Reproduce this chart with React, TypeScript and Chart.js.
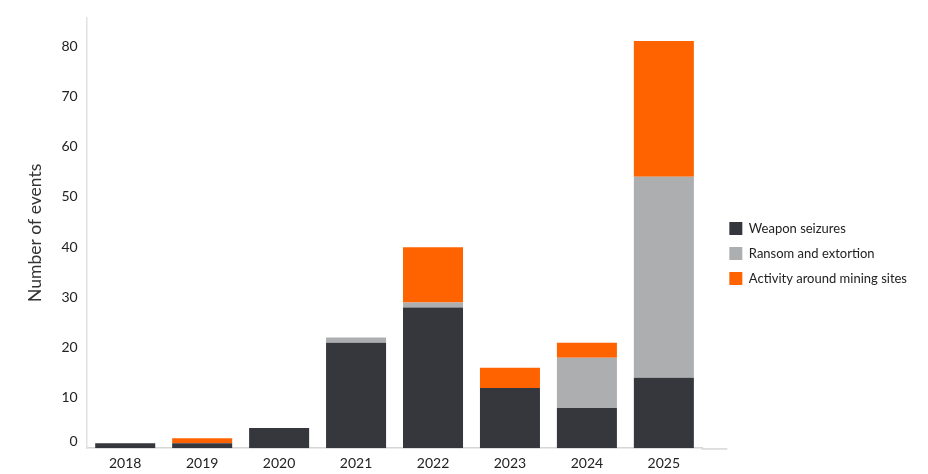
import React, { useEffect, useRef } from "react";
import { Chart, registerables } from "chart.js";

Chart.register(...registerables);

const years = ["2018", "2019", "2020", "2021", "2022", "2023", "2024", "2025"];
const weaponSeizures = [1, 1, 4, 21, 28, 12, 8, 14];
const ransomExtortion = [0, 0, 0, 1, 1, 0, 10, 40];
const miningActivity = [0, 1, 0, 0, 11, 4, 3, 27];
const yTickValues = [0, 10, 20, 30, 40, 50, 60, 70, 80];

const DARK = "#35373d";
const GREY = "#adaeb0";
const ORANGE = "#ff6300";
const FONT = "Lato";
const TICK_PAD = 9;

const axisExtend = {
  id: "axisExtend",
  afterLayout(chart: any) {
    const lg = chart.legend;
    if (lg) {
      lg.left += 15;
      lg.right += 15;
      lg.top += 11.5;
      lg.bottom += 11.5;
    }
  },
  afterDraw(chart: any) {
    const { ctx, chartArea } = chart;
    const y = chart.scales.y;
    ctx.save();
    ctx.strokeStyle = "#d6d6d6";
    ctx.lineWidth = 1.5;
    ctx.beginPath();
    ctx.moveTo(chartArea.right - 1, chartArea.bottom + 0.75);
    ctx.lineTo(chartArea.right + 25, chartArea.bottom + 0.75);
    ctx.stroke();
    // zero label drawn slightly raised, as in the reference
    ctx.fillStyle = "#222";
    ctx.font = `14px ${FONT}`;
    ctx.textAlign = "right";
    ctx.textBaseline = "middle";
    ctx.fillText(String(yTickValues[0]), y.right - TICK_PAD, y.getPixelForValue(yTickValues[0]) - 7);
    ctx.restore();
  },
};

export default function App() {
  const ref = useRef<HTMLCanvasElement | null>(null);
  useEffect(() => {
    document.body.style.margin = "0";
    const chart = new Chart(ref.current as HTMLCanvasElement, {
      type: "bar",
      data: {
        labels: years,
        datasets: [
          { label: "Weapon seizures", data: weaponSeizures, backgroundColor: DARK },
          { label: "Ransom and extortion", data: ransomExtortion, backgroundColor: GREY },
          { label: "Activity around mining sites", data: miningActivity, backgroundColor: ORANGE },
        ],
      },
      options: {
        animation: false,
        responsive: false,
        maintainAspectRatio: false,
        layout: { padding: { top: 5, left: 20, right: 26, bottom: -5 } },
        datasets: { bar: { barPercentage: 0.78, categoryPercentage: 1 } },
        plugins: {
          tooltip: { enabled: false },
          legend: {
            position: "right",
            align: "center",
            labels: {
              boxWidth: 13,
              boxHeight: 13,
              padding: 12,
              color: "#222",
              font: { family: FONT, size: 13 },
            },
          },
        },
        scales: {
          x: {
            stacked: true,
            grid: { display: false, drawTicks: false },
            border: { display: true, color: "#d6d6d6", width: 1.5 },
            ticks: { color: "#222", font: { family: FONT, size: 14 }, padding: 7 },
          },
          y: {
            stacked: true,
            min: 0,
            max: 85.7,
            grid: { display: false, drawTicks: false },
            border: { display: true, color: "#e2e2e2", width: 1.5 },
            afterBuildTicks: (axis: any) => {
              axis.ticks = yTickValues.map((v) => ({ value: v }));
            },
            ticks: {
              color: "#222",
              font: { family: FONT, size: 14 },
              padding: TICK_PAD,
              callback: (v: any) => (v === yTickValues[0] ? "" : String(v)),
            },
            title: {
              display: true,
              text: "Number of events",
              color: "#333",
              font: { family: FONT, size: 17.5 },
              padding: { top: 4.5, bottom: 7 },
            },
          },
        },
      },
      plugins: [axisExtend],
    });
    return () => chart.destroy();
  }, []);
  return (
    <div style={{ width: 928, height: 474 }}>
      <canvas ref={ref} width={928} height={474} />
    </div>
  );
}
